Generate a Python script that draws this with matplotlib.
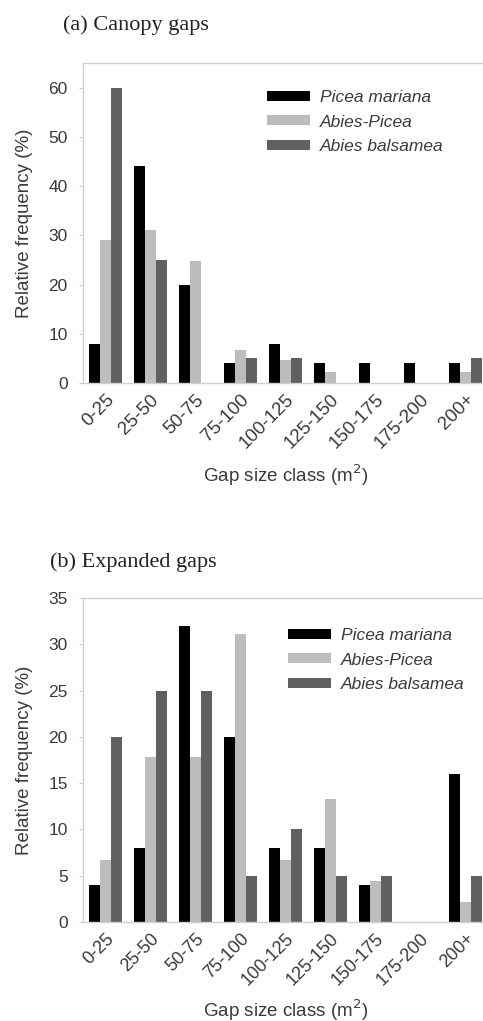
import numpy as np
import matplotlib.pyplot as plt

classes = ['0-25', '25-50', '50-75', '75-100', '100-125', '125-150',
           '150-175', '175-200', '200+']
species = ['Picea mariana', 'Abies-Picea', 'Abies balsamea']
colors = ['#000000', '#bdbdbd', '#606060']

# (a) Canopy gaps
canopy_pm = [8, 44, 20, 4, 8, 4, 4, 4, 4]
canopy_ap = [29, 31, 24.7, 6.7, 4.7, 2.3, 0, 0, 2.3]
canopy_ab = [60, 25, 0, 5, 5, 0, 0, 0, 5]

# (b) Expanded gaps
expanded_pm = [4, 8, 32, 20, 8, 8, 4, 0, 16]
expanded_ap = [6.7, 17.8, 17.8, 31.1, 6.7, 13.3, 4.4, 0, 2.2]
expanded_ab = [20, 25, 25, 5, 10, 5, 5, 0, 5]

W, H = 483, 1021
fig = plt.figure(figsize=(W / 100, H / 100), dpi=100)

def panel(rect, series, ylim, yticks, title, title_xy, leg_anchor, xfs, xpad):
    ax = fig.add_axes(rect)
    x = np.arange(len(classes))
    w = 0.24
    handles = []
    for i, (vals, c) in enumerate(zip(series, colors)):
        b = ax.bar(x + (i - 1) * w, vals, width=w, color=c, linewidth=0)
        handles.append(b)
    ax.set_xlim(-0.5, len(classes) - 0.5)
    ax.set_ylim(*ylim)
    ax.set_yticks(yticks)
    ax.set_xticks(x)
    ax.set_xticklabels(classes, rotation=45, ha='right', rotation_mode='anchor',
                       fontsize=xfs, color='#3a3a3a', family='Liberation Sans')
    for lab in ax.get_yticklabels():
        lab.set_fontsize(12.5)
        lab.set_color('#3a3a3a')
        lab.set_family('Liberation Sans')
    for s in ax.spines.values():
        s.set_color('#cfcfcf')
        s.set_linewidth(1.0)
    ax.tick_params(axis='y', length=3, color='#cfcfcf', pad=8)
    ax.tick_params(axis='x', length=0, pad=6)
    ax.set_ylabel('Relative frequency (%)', fontsize=13.5, color='#3a3a3a',
                  family='Liberation Sans', labelpad=11)
    ax.set_xlabel('Gap size class (m$^2$)', fontsize=13.5, color='#3a3a3a',
                  family='Liberation Sans', labelpad=xpad)
    leg = ax.legend(handles, species, loc='upper left', bbox_to_anchor=leg_anchor,
                    bbox_transform=fig.transFigure, frameon=False,
                    prop={'family': 'Liberation Sans', 'style': 'italic', 'size': 12.5},
                    handlelength=2.5, handleheight=0.5, handletextpad=0.55,
                    labelspacing=0.55, borderaxespad=0, borderpad=0)
    for t in leg.get_texts():
        t.set_color('#3a3a3a')
    fig.text(title_xy[0], title_xy[1], title, fontsize=16, family='Liberation Serif',
             color='#222222', va='center', ha='left')
    return ax

panel([83 / W, 1 - 383 / H, 405 / W, 320 / H],
      [canopy_pm, canopy_ap, canopy_ab], (0, 65), np.arange(0, 61, 10),
      '(a) Canopy gaps', (63 / W, 1 - 25 / H), (267 / W, 1 - 90 / H), 13.5, 7)

panel([83 / W, 1 - 922 / H, 405 / W, 324 / H],
      [expanded_pm, expanded_ap, expanded_ab], (0, 35), np.arange(0, 36, 5),
      '(b) Expanded gaps', (50 / W, 1 - 562 / H), (288 / W, 1 - 628 / H), 13, 6)

fig.savefig('out.png', dpi=100)
